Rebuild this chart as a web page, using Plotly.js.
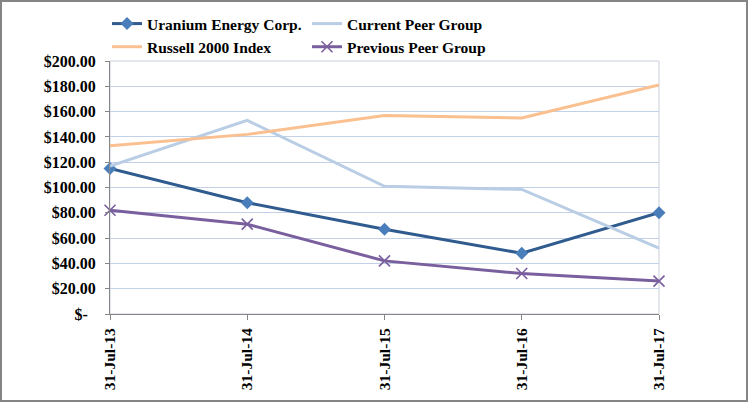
<!DOCTYPE html>
<html>
<head>
<meta charset="utf-8">
<script src="https://cdn.plot.ly/plotly-3.0.1.min.js"></script>
<style>
  html, body { margin: 0; padding: 0; background: #ffffff; }
  #wrap { position: relative; width: 748px; height: 402px; }
  #chart { position: absolute; left: 0; top: 0; width: 748px; height: 402px; }
  #frame { position: absolute; left: 0; top: 0; width: 748px; height: 402px;
           box-sizing: border-box; border: 2px solid #858585; pointer-events: none; }
</style>
</head>
<body>
<div id="wrap">
  <div id="chart"></div>
  <div id="frame"></div>
</div>
<script>
// ---- data ----
const categories = ["31-Jul-13", "31-Jul-14", "31-Jul-15", "31-Jul-16", "31-Jul-17"];
const uraniumEnergy = [115, 88, 67, 48, 80];
const currentPeerGroup = [117, 153, 101, 98.5, 52];
const russell2000 = [133, 142, 157, 155, 181];
const previousPeerGroup = [82, 71, 42, 32, 26];
const yTickVals = [0, 20, 40, 60, 80, 100, 120, 140, 160, 180, 200];
const yTickText = ["$-\u00a0\u00a0", "$20.00", "$40.00", "$60.00", "$80.00", "$100.00",
                   "$120.00", "$140.00", "$160.00", "$180.00", "$200.00"];

const serif = "Liberation Serif";

const traces = [
  {
    name: "Uranium Energy Corp.", x: categories, y: uraniumEnergy,
    type: "scatter", mode: "lines+markers", legend: "legend",
    line: { color: "#2f5b8f", width: 3 },
    marker: { symbol: "diamond", size: 10, color: "#4a7ebb", line: { width: 0 } },
    cliponaxis: false
  },
  {
    name: "Current Peer Group", x: categories, y: currentPeerGroup,
    type: "scatter", mode: "lines", legend: "legend2",
    line: { color: "#b9cde5", width: 3 },
    cliponaxis: false
  },
  {
    name: "Russell 2000 Index", x: categories, y: russell2000,
    type: "scatter", mode: "lines", legend: "legend",
    line: { color: "#fac090", width: 3 },
    cliponaxis: false
  },
  {
    name: "Previous Peer Group", x: categories, y: previousPeerGroup,
    type: "scatter", mode: "lines+markers", legend: "legend2",
    line: { color: "#7a5f9e", width: 3 },
    marker: { symbol: "x-thin", size: 11, color: "#7a5f9e", line: { width: 1.6, color: "#7a5f9e" } },
    cliponaxis: false
  }
];

const legendFont = { family: serif, size: 15.5, color: "#000000", weight: "bold" };

const layout = {
  width: 748, height: 402,
  margin: { l: 110, r: 89, t: 61, b: 88, autoexpand: false },
  paper_bgcolor: "#ffffff", plot_bgcolor: "#ffffff",
  font: { family: serif },
  showlegend: true,
  legend: {
    x: -0.0055, xanchor: "left", y: 1.2134, yanchor: "top",
    orientation: "v", font: legendFont, bgcolor: "rgba(0,0,0,0)",
    borderwidth: 0, tracegroupgap: 0, itemclick: false
  },
  legend2: {
    x: 0.3588, xanchor: "left", y: 1.2134, yanchor: "top",
    orientation: "v", font: legendFont, bgcolor: "rgba(0,0,0,0)",
    borderwidth: 0, tracegroupgap: 0, itemclick: false
  },
  xaxis: {
    type: "category", range: [0, 4], automargin: false,
    showgrid: false, zeroline: false,
    showline: true, linecolor: "#868686", linewidth: 1,
    ticks: "outside", ticklen: 5, tickcolor: "#868686",
    tickangle: -90, ticklabelstandoff: 2,
    tickfont: { family: serif, size: 15.5, color: "#000000", weight: "bold" }
  },
  yaxis: {
    range: [0, 200], tickvals: yTickVals, ticktext: yTickText, automargin: false,
    showgrid: true, gridcolor: "#c3d1e8", gridwidth: 1,
    zeroline: false,
    showline: true, linecolor: "#868686", linewidth: 1,
    ticks: "outside", ticklen: 4, tickcolor: "#868686",
    ticklabelstandoff: 6,
    tickfont: { family: serif, size: 16, color: "#000000", weight: "bold" }
  },
  shapes: [
    { type: "rect", xref: "paper", yref: "paper", x0: 0, x1: 1, y0: 0, y1: 1,
      line: { color: "#c8cfdb", width: 1 }, layer: "below" }
  ]
};

Plotly.newPlot("chart", traces, layout, { staticPlot: true, displayModeBar: false });
</script>
</body>
</html>
